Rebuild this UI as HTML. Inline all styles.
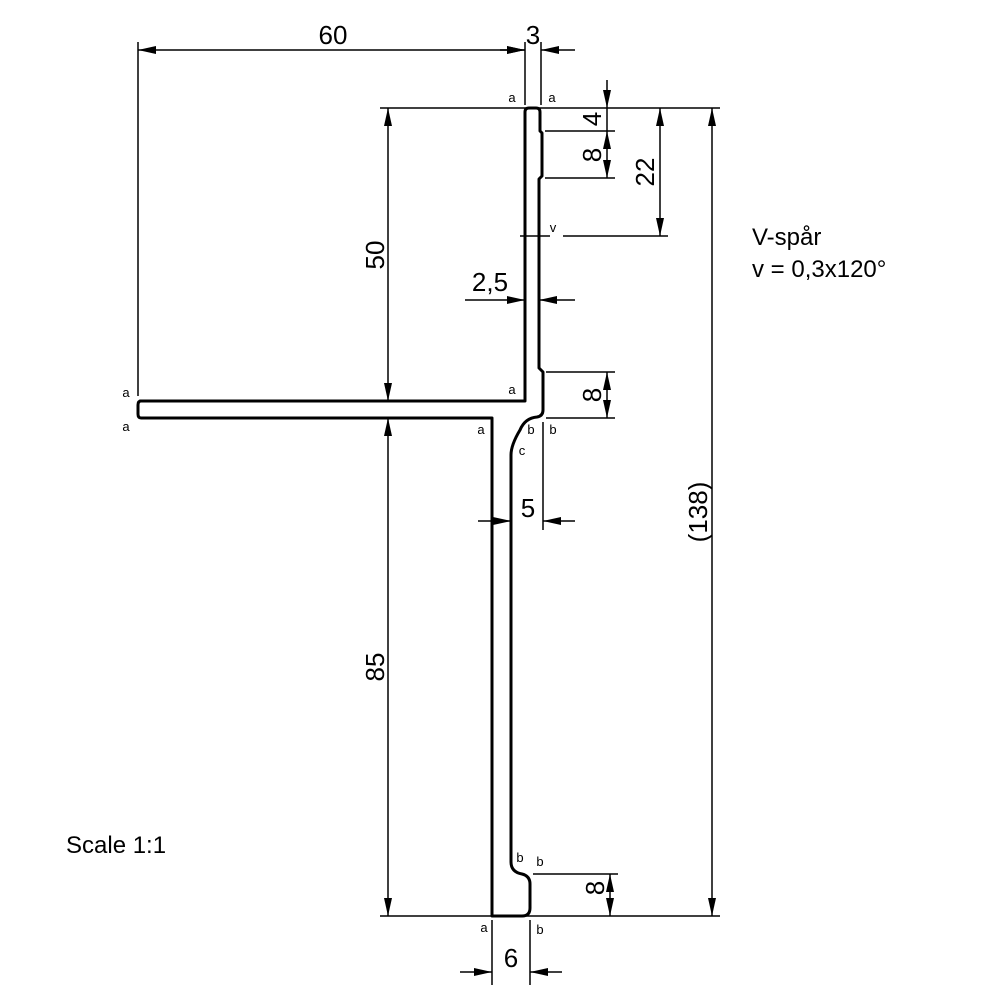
<!DOCTYPE html>
<html><head><meta charset="utf-8"><style>body{margin:0;background:#fff}svg{display:block}</style></head>
<body>
<svg width="1000" height="1000" viewBox="0 0 1000 1000" xmlns="http://www.w3.org/2000/svg" font-family="Liberation Sans, sans-serif">
<defs>
<marker id="ar" viewBox="0 0 10 6" refX="10" refY="3" markerWidth="18" markerHeight="8" markerUnits="userSpaceOnUse" orient="auto-start-reverse" preserveAspectRatio="none"><path d="M0,0 L10,3 L0,6 Z" fill="#000"/></marker>
</defs>
<path d="M140,401 L525,401 L525,112 Q525,108 529,108 L536,108 Q540,108 540,112 L540,131 L542,133 L542,176 L539,179 L539,368 L543,372 L543,410 Q543,416 537,417 Q525,418 520,430 Q511,445 511,455 L511,862 Q511,872 522,874 Q530,876 530,884 L530,908 Q530,916 522,916 L492,916 L492,418 L141,418 Q138,418 138,414 L138,405 Q138,401 141,401 Z" fill="none" stroke="#000" stroke-width="3" stroke-linejoin="round"/>
<g stroke="#000" stroke-width="1.5" fill="none">
<line x1="138" y1="42" x2="138" y2="396"/>
<line x1="525" y1="42" x2="525" y2="105"/>
<line x1="541" y1="42" x2="541" y2="105"/>
<line x1="380" y1="108" x2="720" y2="108"/>
<line x1="380" y1="401" x2="520" y2="401"/>
<line x1="380" y1="418" x2="488" y2="418"/>
<line x1="546" y1="418" x2="615" y2="418"/>
<line x1="380" y1="916" x2="720" y2="916"/>
<line x1="545" y1="131" x2="615" y2="131"/>
<line x1="545" y1="178" x2="615" y2="178"/>
<line x1="520" y1="236" x2="550" y2="236"/>
<line x1="563" y1="236" x2="668" y2="236"/>
<line x1="546" y1="372" x2="615" y2="372"/>
<line x1="543" y1="422" x2="543" y2="530"/>
<line x1="533" y1="874" x2="618" y2="874"/>
<line x1="492" y1="920" x2="492" y2="985"/>
<line x1="530" y1="920" x2="530" y2="985"/>
<line x1="138" y1="50" x2="525" y2="50" marker-start="url(#ar)" marker-end="url(#ar)"/>
<line x1="500" y1="50" x2="525" y2="50" marker-end="url(#ar)"/>
<line x1="575" y1="50" x2="541" y2="50" marker-end="url(#ar)"/>
<line x1="388" y1="108" x2="388" y2="401" marker-start="url(#ar)" marker-end="url(#ar)"/>
<line x1="388" y1="418" x2="388" y2="916" marker-start="url(#ar)" marker-end="url(#ar)"/>
<line x1="712" y1="108" x2="712" y2="916" marker-start="url(#ar)" marker-end="url(#ar)"/>
<line x1="607" y1="80" x2="607" y2="108" marker-end="url(#ar)"/>
<line x1="607" y1="108" x2="607" y2="131" />
<line x1="607" y1="131" x2="607" y2="178" marker-start="url(#ar)" marker-end="url(#ar)"/>
<line x1="660" y1="108" x2="660" y2="236" marker-start="url(#ar)" marker-end="url(#ar)"/>
<line x1="465" y1="300" x2="525" y2="300" marker-end="url(#ar)"/>
<line x1="575" y1="300" x2="539" y2="300" marker-end="url(#ar)"/>
<line x1="607" y1="372" x2="607" y2="418" marker-start="url(#ar)" marker-end="url(#ar)"/>
<line x1="478" y1="521" x2="511" y2="521" marker-end="url(#ar)"/>
<line x1="575" y1="521" x2="543" y2="521" marker-end="url(#ar)"/>
<line x1="610" y1="874" x2="610" y2="916" marker-start="url(#ar)" marker-end="url(#ar)"/>
<line x1="460" y1="972" x2="492" y2="972" marker-end="url(#ar)"/>
<line x1="562" y1="972" x2="530" y2="972" marker-end="url(#ar)"/>
</g>
<g font-size="26" fill="#000">
<text x="333" y="44" text-anchor="middle">60</text>
<text x="533" y="44" text-anchor="middle">3</text>
<text x="490" y="291" text-anchor="middle">2,5</text>
<text x="528" y="517" text-anchor="middle">5</text>
<text x="511" y="967" text-anchor="middle">6</text>
<text transform="translate(384,255) rotate(-90)" text-anchor="middle">50</text>
<text transform="translate(384,667) rotate(-90)" text-anchor="middle">85</text>
<text transform="translate(707,512) rotate(-90)" text-anchor="middle">(138)</text>
<text transform="translate(601,119) rotate(-90)" text-anchor="middle">4</text>
<text transform="translate(601,155) rotate(-90)" text-anchor="middle">8</text>
<text transform="translate(654,172) rotate(-90)" text-anchor="middle">22</text>
<text transform="translate(601,395) rotate(-90)" text-anchor="middle">8</text>
<text transform="translate(604,888) rotate(-90)" text-anchor="middle">8</text>
<text x="752" y="245" font-size="24">V-spår</text>
<text x="752" y="277" font-size="24">v = 0,3x120°</text>
<text x="66" y="853" font-size="24">Scale 1:1</text>
</g>
<g font-size="13" fill="#000" text-anchor="middle">
<text x="512" y="102">a</text><text x="552" y="102">a</text>
<text x="126" y="397">a</text><text x="126" y="431">a</text>
<text x="512" y="394">a</text><text x="481" y="434">a</text>
<text x="531" y="434">b</text><text x="553" y="434">b</text>
<text x="522" y="455">c</text>
<text x="520" y="862">b</text><text x="540" y="866">b</text>
<text x="484" y="932">a</text><text x="540" y="934">b</text>
<text x="553" y="232">v</text>
</g>
</svg>
</body></html>
